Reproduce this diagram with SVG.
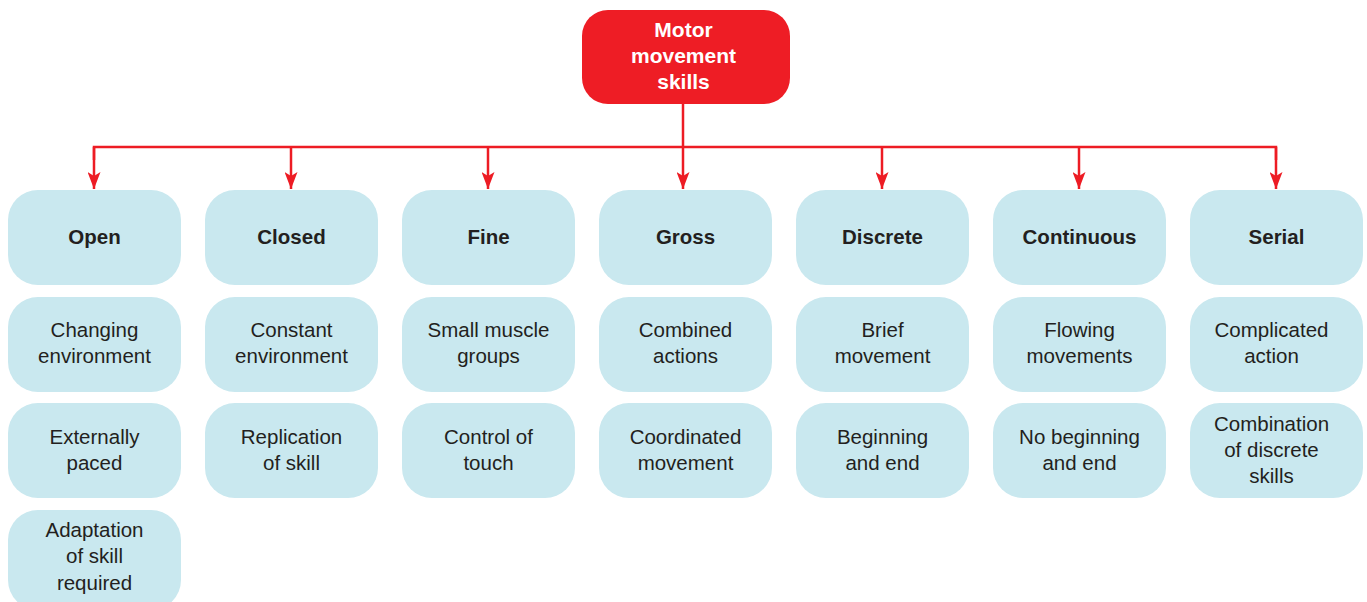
<svg xmlns="http://www.w3.org/2000/svg" width="1367" height="602" viewBox="0 0 1367 602">
<style>
.b{fill:#c9e8ef}
.t{font-family:"Liberation Sans",Arial,sans-serif;font-size:20.5px;fill:#231f20;text-anchor:middle}
.h{font-weight:bold}
.w{fill:#ffffff;font-weight:bold;font-size:21px}
.c{fill:none;stroke:#ed1c24;stroke-width:2.5}
</style>
<defs>
<marker id="ah" markerWidth="17" markerHeight="13" refX="17" refY="6.5" orient="auto" markerUnits="userSpaceOnUse" viewBox="0 0 17 13">
<path d="M0,0 L17,6.5 L0,13 L4,6.5 Z" fill="#ed1c24"/>
</marker>
</defs>
<rect width="1367" height="602" fill="#ffffff"/>
<g id="connectors">
<path class="c" d="M683,104 V147"/>
<path class="c" d="M94,160 V147 H1276 V160"/>
<path class="c" d="M94,147 V189" marker-end="url(#ah)"/>
<path class="c" d="M291,147 V189" marker-end="url(#ah)"/>
<path class="c" d="M488,147 V189" marker-end="url(#ah)"/>
<path class="c" d="M683,147 V189" marker-end="url(#ah)"/>
<path class="c" d="M882,147 V189" marker-end="url(#ah)"/>
<path class="c" d="M1079,147 V189" marker-end="url(#ah)"/>
<path class="c" d="M1276,147 V189" marker-end="url(#ah)"/>
</g>
<g id="root">
<rect x="582" y="10" width="208" height="94" rx="26" fill="#ee1d25"/>
<text class="t w" x="683.5" y="37">Motor</text>
<text class="t w" x="683.5" y="63">movement</text>
<text class="t w" x="683.5" y="89">skills</text>
</g>
<g id="open">
<rect class="b" x="8" y="190" width="173" height="95" rx="30"/>
<text class="t h" x="94.5" y="244">Open</text>
</g>
<g id="open-1"><rect class="b" x="8" y="297" width="173" height="95" rx="30"/>
<text class="t" x="94.5" y="337">Changing</text><text class="t" x="94.5" y="363">environment</text></g>
<g id="open-2"><rect class="b" x="8" y="403" width="173" height="95" rx="30"/>
<text class="t" x="94.5" y="444">Externally</text><text class="t" x="94.5" y="470">paced</text></g>
<g id="open-3"><rect class="b" x="8" y="510" width="173" height="100" rx="30"/>
<text class="t" x="94.5" y="537">Adaptation</text><text class="t" x="94.5" y="563">of skill</text><text class="t" x="94.5" y="590">required</text></g>

<g id="closed">
<rect class="b" x="205" y="190" width="173" height="95" rx="30"/>
<text class="t h" x="291.5" y="244">Closed</text>
</g>
<g id="closed-1"><rect class="b" x="205" y="297" width="173" height="95" rx="30"/>
<text class="t" x="291.5" y="337">Constant</text><text class="t" x="291.5" y="363">environment</text></g>
<g id="closed-2"><rect class="b" x="205" y="403" width="173" height="95" rx="30"/>
<text class="t" x="291.5" y="444">Replication</text><text class="t" x="291.5" y="470">of skill</text></g>

<g id="fine">
<rect class="b" x="402" y="190" width="173" height="95" rx="30"/>
<text class="t h" x="488.5" y="244">Fine</text>
</g>
<g id="fine-1"><rect class="b" x="402" y="297" width="173" height="95" rx="30"/>
<text class="t" x="488.5" y="337">Small muscle</text><text class="t" x="488.5" y="363">groups</text></g>
<g id="fine-2"><rect class="b" x="402" y="403" width="173" height="95" rx="30"/>
<text class="t" x="488.5" y="444">Control of</text><text class="t" x="488.5" y="470">touch</text></g>

<g id="gross">
<rect class="b" x="599" y="190" width="173" height="95" rx="30"/>
<text class="t h" x="685.5" y="244">Gross</text>
</g>
<g id="gross-1"><rect class="b" x="599" y="297" width="173" height="95" rx="30"/>
<text class="t" x="685.5" y="337">Combined</text><text class="t" x="685.5" y="363">actions</text></g>
<g id="gross-2"><rect class="b" x="599" y="403" width="173" height="95" rx="30"/>
<text class="t" x="685.5" y="444">Coordinated</text><text class="t" x="685.5" y="470">movement</text></g>

<g id="discrete">
<rect class="b" x="796" y="190" width="173" height="95" rx="30"/>
<text class="t h" x="882.5" y="244">Discrete</text>
</g>
<g id="discrete-1"><rect class="b" x="796" y="297" width="173" height="95" rx="30"/>
<text class="t" x="882.5" y="337">Brief</text><text class="t" x="882.5" y="363">movement</text></g>
<g id="discrete-2"><rect class="b" x="796" y="403" width="173" height="95" rx="30"/>
<text class="t" x="882.5" y="444">Beginning</text><text class="t" x="882.5" y="470">and end</text></g>

<g id="continuous">
<rect class="b" x="993" y="190" width="173" height="95" rx="30"/>
<text class="t h" x="1079.5" y="244">Continuous</text>
</g>
<g id="continuous-1"><rect class="b" x="993" y="297" width="173" height="95" rx="30"/>
<text class="t" x="1079.5" y="337">Flowing</text><text class="t" x="1079.5" y="363">movements</text></g>
<g id="continuous-2"><rect class="b" x="993" y="403" width="173" height="95" rx="30"/>
<text class="t" x="1079.5" y="444">No beginning</text><text class="t" x="1079.5" y="470">and end</text></g>

<g id="serial">
<rect class="b" x="1190" y="190" width="173" height="95" rx="30"/>
<text class="t h" x="1276.5" y="244">Serial</text>
</g>
<g id="serial-1"><rect class="b" x="1190" y="297" width="173" height="95" rx="30"/>
<text class="t" x="1271.5" y="337">Complicated</text><text class="t" x="1271.5" y="363">action</text></g>
<g id="serial-2"><rect class="b" x="1190" y="403" width="173" height="95" rx="30"/>
<text class="t" x="1271.5" y="431">Combination</text><text class="t" x="1271.5" y="457">of discrete</text><text class="t" x="1271.5" y="483">skills</text></g>
</svg>
